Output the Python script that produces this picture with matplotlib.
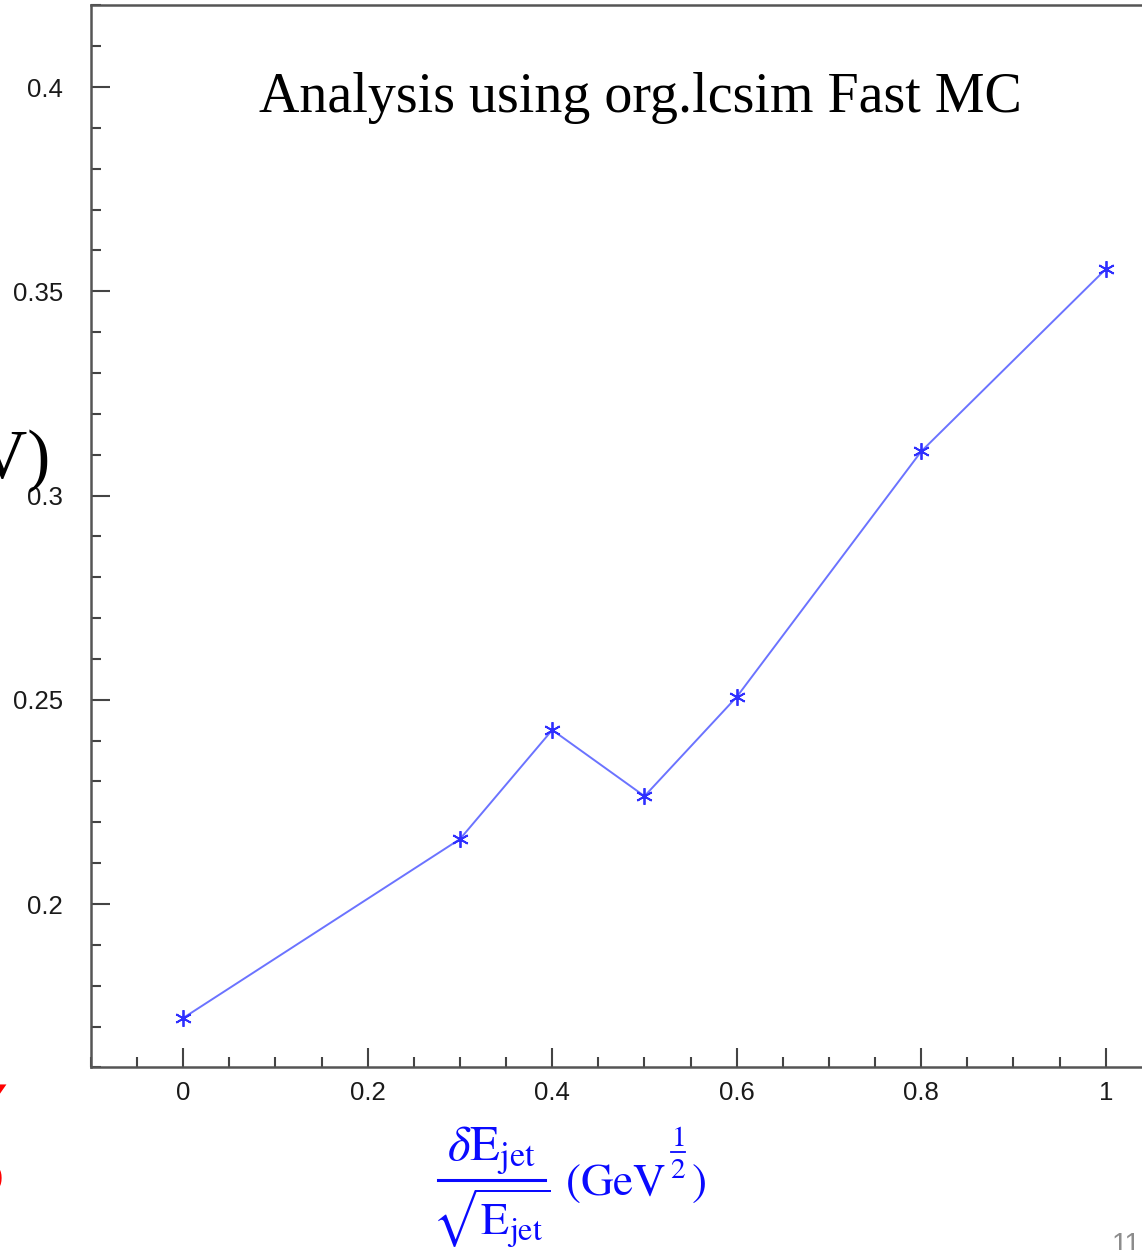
import matplotlib
matplotlib.use("Agg")
import matplotlib.pyplot as plt
from matplotlib.lines import Line2D
from matplotlib.ticker import MultipleLocator, FixedFormatter, FixedLocator

plt.rcParams['mathtext.fontset'] = 'stix'

# resolution term (GeV^1/2) vs. fitted width
resolution = [0.0, 0.3, 0.4, 0.5, 0.6, 0.8, 1.0]
width = [0.1721, 0.2159, 0.2426, 0.2264, 0.2507, 0.3108, 0.3554]

x_ticks = [0, 0.2, 0.4, 0.6, 0.8, 1.0]
x_tick_labels = ['0', '0.2', '0.4', '0.6', '0.8', '1']
y_ticks = [0.2, 0.25, 0.3, 0.35, 0.4]
y_tick_labels = ['0.2', '0.25', '0.3', '0.35', '0.4']

W, H = 1142, 1250
fig = plt.figure(figsize=(W / 100, H / 100), dpi=100)
fig.patch.set_facecolor('white')


def fx(px):
    return px / W


def fy(py):
    return 1 - py / H


# axes frame runs past the right edge of the canvas
left_px, right_px = 91, 1198
top_px, bottom_px = 5.3, 1067.4
ax = fig.add_axes([fx(left_px), fy(bottom_px),
                   (right_px - left_px) / W, (bottom_px - top_px) / H])
ax.set_xlim(-0.1, 1.1)
ax.set_ylim(0.16, 0.42)

ax.plot(resolution, width, color='#6b73ff', lw=1.4,
        marker=(6, 2, 0), markersize=12, markeredgewidth=1.3,
        markeredgecolor='#2f2fff', markerfacecolor='#2f2fff', clip_on=False)

for s in ax.spines.values():
    s.set_color('#555555')
    s.set_linewidth(1.8)

ax.xaxis.set_major_locator(FixedLocator(x_ticks))
ax.xaxis.set_major_formatter(FixedFormatter(x_tick_labels))
ax.xaxis.set_minor_locator(MultipleLocator(0.05))
ax.yaxis.set_major_locator(FixedLocator(y_ticks))
ax.yaxis.set_major_formatter(FixedFormatter(y_tick_labels))
ax.yaxis.set_minor_locator(MultipleLocator(0.01))

ax.tick_params(which='both', direction='in', color='#444444', width=1.5,
               top=False, right=False, labelcolor='#1a1a1a',
               labelsize=18.5)
ax.tick_params(which='major', length=14)
ax.tick_params(which='minor', length=7.5)
ax.tick_params(axis='y', which='major', pad=20)
ax.tick_params(axis='x', which='major', pad=10)
for lab in ax.get_xticklabels() + ax.get_yticklabels():
    lab.set_family('Liberation Sans')

fig.text(fx(640), fy(112), 'Analysis using org.lcsim Fast MC',
         family='Liberation Serif', fontsize=40.3, color='black',
         ha='center', va='baseline')

# x-axis quantity: dE_jet / sqrt(E_jet)  (GeV^1/2)
blue = '#0a0aff'
frac_cx = fx(491)
fig.text(frac_cx, fy(1160), r'$\delta\mathrm{E}_{\mathrm{jet}}$',
         fontsize=35, color=blue, ha='center', va='baseline')
fig.add_artist(Line2D([fx(438), fx(545)], [fy(1180), fy(1180)],
                      transform=fig.transFigure, color=blue, lw=2.2))
fig.text(frac_cx, fy(1236), r'$\sqrt{\mathrm{E}_{\mathrm{jet}}}$',
         fontsize=33, color=blue, ha='center', va='baseline')
fig.text(fx(565), fy(1195), r'$(\mathrm{GeV}$',
         fontsize=32.5, color=blue, ha='left', va='baseline')
fig.text(fx(678), fy(1146), r'$1$', fontsize=21, color=blue,
         ha='center', va='baseline')
fig.add_artist(Line2D([fx(671), fx(685)], [fy(1152), fy(1152)],
                      transform=fig.transFigure, color=blue, lw=1.3))
fig.text(fx(678), fy(1178), r'$2$', fontsize=21, color=blue,
         ha='center', va='baseline')
fig.text(fx(691), fy(1195), r'$)$',
         fontsize=32.5, color=blue, ha='left', va='baseline')

# slide text around the plot
fig.text(fx(50), fy(478), '(GeV)', family='Liberation Serif',
         fontsize=50, color='black', ha='right', va='baseline')
fig.text(fx(7), fy(1115), r'$\gamma$', fontsize=50, color='#ff0000',
         ha='right', va='baseline')
fig.text(fx(4), fy(1192), 'o', family='Liberation Serif',
         fontsize=40, color='#ff0000', ha='right', va='baseline')
fig.text(fx(1112), fy(1252), '11', family='Liberation Sans',
         fontsize=20, color='#8c8c8c', ha='left', va='baseline')

fig.savefig('out.png', dpi=100, facecolor='white')
